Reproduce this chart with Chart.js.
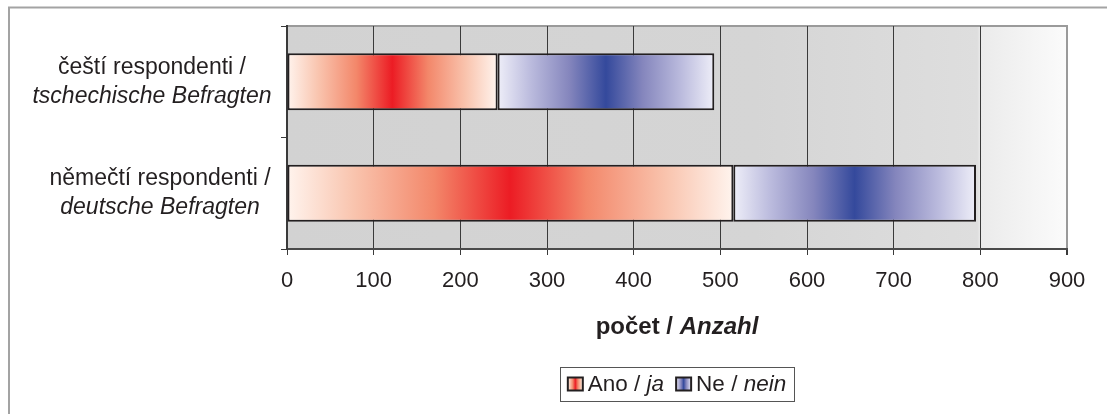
<!DOCTYPE html>
<html>
<head>
<meta charset="utf-8">
<script src="https://cdn.jsdelivr.net/npm/chart.js@4.4.1/dist/chart.umd.min.js"></script>
<style>
  html, body { margin: 0; padding: 0; background: #fff; }
  #wrap { width: 1107px; height: 414px; }
</style>
</head>
<body>
<div id="wrap"><canvas id="barChart" width="1107" height="414"></canvas></div>
<script>
// data
var categories = [
    ["čeští respondenti /", "tschechische Befragten"],
    ["němečtí respondenti /", "deutsche Befragten"]
];
var yesValues = [243, 515];
var noValues = [250, 280];
var xTicks = [0, 100, 200, 300, 400, 500, 600, 700, 800, 900];
var seriesNames = [["Ano / ", "ja"], ["Ne / ", "nein"]];

var FONT = "'Liberation Sans', Arial, sans-serif";
var TEXT = "#231f20";
var labelCenters = [152, 160];

var redStops = [[0, '#fff4ee'], [0.15, '#f9c4ae'], [0.33, '#f3876a'], [0.5, '#ec1c24'], [0.67, '#f3876a'], [0.85, '#f9c4ae'], [1, '#fff4ee']];
var blueStops = [[0, '#eeeef8'], [0.15, '#bcbcde'], [0.33, '#8586bd'], [0.5, '#34499c'], [0.67, '#8586bd'], [0.85, '#bcbcde'], [1, '#eeeef8']];

function makeGrad(ctx, x0, x1, stops) {
    var g = ctx.createLinearGradient(x0, 0, x1, 0);
    stops.forEach(function(s) { g.addColorStop(s[0], s[1]); });
    return g;
}

function segFill(stops, prev) {
    return function(c) {
        var chart = c.chart;
        var xs = chart.scales.x;
        if (!xs || c.dataIndex === undefined) return stops[3][1];
        var i = c.dataIndex;
        var start = prev ? prev[i] : 0;
        var end = start + c.dataset.data[i];
        var x0 = xs.getPixelForValue(start), x1 = xs.getPixelForValue(end);
        if (!isFinite(x0) || !isFinite(x1) || x0 === x1) return stops[3][1];
        return makeGrad(chart.ctx, x0, x1, stops);
    };
}

function drawRuns(ctx, runs, cx, y) {
    var total = 0;
    runs.forEach(function(r) { ctx.font = r.font; total += ctx.measureText(r.t).width; });
    var x = cx - total / 2;
    ctx.textAlign = 'left';
    ctx.textBaseline = 'middle';
    runs.forEach(function(r) {
        ctx.font = r.font;
        ctx.fillText(r.t, x, y);
        x += ctx.measureText(r.t).width;
    });
}

var textPlugin = {
    id: 'texts',
    beforeDraw: function(chart) {
        var ctx = chart.ctx, a = chart.chartArea;
        ctx.save();
        // outer frame
        ctx.strokeStyle = '#a3a3a3';
        ctx.lineWidth = 2;
        ctx.beginPath();
        ctx.moveTo(9, 420); ctx.lineTo(9, 7.5); ctx.lineTo(1110, 7.5);
        ctx.stroke();
        // plot background
        var g = ctx.createLinearGradient(a.left, 0, a.right, 0);
        g.addColorStop(0, '#d2d2d2');
        g.addColorStop(0.6, '#d5d5d5');
        g.addColorStop(0.885, '#dedede');
        g.addColorStop(0.889, '#ebebeb');
        g.addColorStop(1, '#fbfbfb');
        ctx.fillStyle = g;
        ctx.fillRect(a.left, a.top, a.right - a.left, a.bottom - a.top);
        ctx.strokeStyle = '#9a9a9a';
        ctx.lineWidth = 2;
        ctx.strokeRect(a.left, a.top, a.right - a.left, a.bottom - a.top);
        ctx.restore();
    },
    afterDraw: function(chart) {
        var ctx = chart.ctx, a = chart.chartArea, ys = chart.scales.y;
        ctx.save();
        ctx.fillStyle = TEXT;
        // category labels
        categories.forEach(function(lines, i) {
            var cy = ys.getPixelForValue(i);
            drawRuns(ctx, [{t: lines[0], font: '23px ' + FONT}], labelCenters[i], cy - 14.5);
            drawRuns(ctx, [{t: lines[1], font: 'italic 23px ' + FONT}], labelCenters[i], cy + 14.5);
        });
        // axis title
        var cx = (a.left + a.right) / 2;
        drawRuns(ctx, [
            {t: 'počet / ', font: 'bold 24px ' + FONT},
            {t: 'Anzahl', font: 'italic bold 24px ' + FONT}
        ], cx, 327);
        // legend
        var sw = 15, sh = 13, gapIn = 5, gapItem = 12, pad = 8;
        var widths = seriesNames.map(function(n) {
            ctx.font = '22.5px ' + FONT;
            var w = ctx.measureText(n[0]).width;
            ctx.font = 'italic 22.5px ' + FONT;
            return w + ctx.measureText(n[1]).width;
        });
        var content = sw + gapIn + widths[0] + gapItem + sw + gapIn + widths[1];
        var bx = cx - content / 2 - pad, by = 367, bw = content + 2 * pad, bh = 34;
        ctx.strokeStyle = '#555';
        ctx.lineWidth = 1;
        ctx.strokeRect(Math.round(bx) + 0.5, by + 0.5, Math.round(bw), bh);
        var x = bx + pad, my = by + bh / 2;
        [redStops, blueStops].forEach(function(stops, i) {
            ctx.fillStyle = makeGrad(ctx, x, x + sw, stops);
            ctx.fillRect(x, my - sh / 2, sw, sh);
            ctx.strokeStyle = TEXT;
            ctx.lineWidth = 2;
            ctx.strokeRect(x, my - sh / 2, sw, sh);
            x += sw + gapIn;
            ctx.fillStyle = TEXT;
            drawRuns(ctx, [
                {t: seriesNames[i][0], font: '22.5px ' + FONT},
                {t: seriesNames[i][1], font: 'italic 22.5px ' + FONT}
            ], x + widths[i] / 2, my + 1);
            x += widths[i] + gapItem;
        });
        ctx.restore();
    }
};

new Chart(document.getElementById('barChart'), {
    type: 'bar',
    data: {
        labels: categories,
        datasets: [{
            label: 'Ano / ja',
            data: yesValues,
            backgroundColor: segFill(redStops, null),
            borderColor: TEXT,
            borderWidth: 2,
            borderSkipped: false
        }, {
            label: 'Ne / nein',
            data: noValues,
            backgroundColor: segFill(blueStops, yesValues),
            borderColor: TEXT,
            borderWidth: 2,
            borderSkipped: false
        }]
    },
    options: {
        indexAxis: 'y',
        responsive: false,
        devicePixelRatio: 1,
        animation: false,
        layout: { padding: { left: 0, top: 26, right: 40, bottom: 0 } },
        categoryPercentage: 1,
        barPercentage: 0.51,
        plugins: { legend: { display: false }, tooltip: { enabled: false } },
        scales: {
            x: {
                stacked: true,
                min: 0,
                max: 900,
                afterBuildTicks: function(s) { s.ticks = xTicks.map(function(v) { return {value: v}; }); },
                afterFit: function(s) { s.height = 165; },
                grid: {
                    color: function(c) { return c.tick && c.tick.value === 900 ? '#9a9a9a' : '#3a3a3a'; },
                    lineWidth: function(c) { return c.tick && c.tick.value === 900 ? 2 : 1; },
                    tickLength: 6,
                    tickColor: '#3a3a3a'
                },
                border: { color: '#4a4a4a', width: 2 },
                ticks: { color: TEXT, font: { family: FONT, size: 22 }, padding: 13, maxRotation: 0 }
            },
            y: {
                stacked: true,
                afterFit: function(s) { s.width = 287; },
                grid: { drawOnChartArea: false, tickLength: 6, color: '#3a3a3a', offset: true },
                border: { color: '#3a3a3a', width: 2 },
                ticks: { display: false }
            }
        }
    },
    plugins: [textPlugin]
});
</script>
</body>
</html>
